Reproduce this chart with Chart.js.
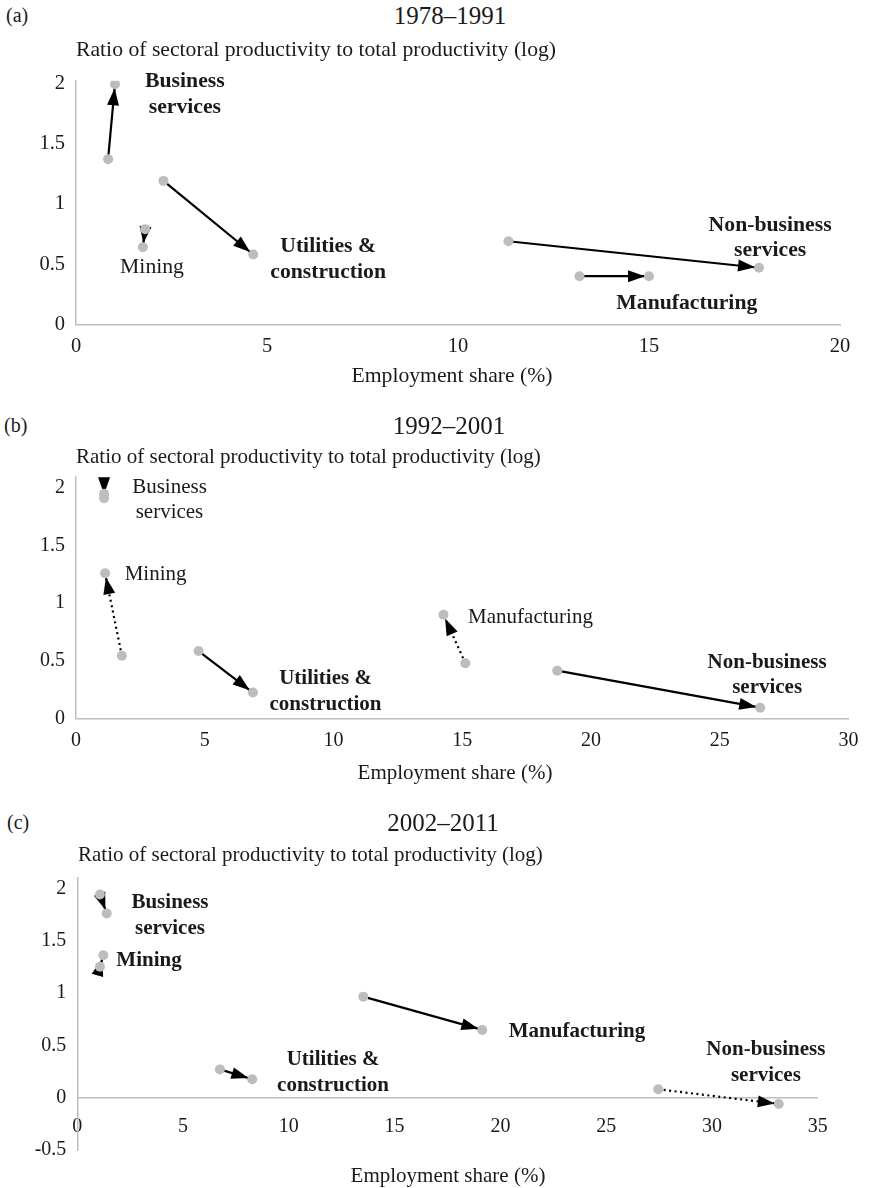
<!DOCTYPE html>
<html>
<head>
<meta charset="utf-8">
<script src="https://cdn.jsdelivr.net/npm/chart.js@4.4.1/dist/chart.umd.min.js"></script>
<style>
  body { margin: 0; background: #fff; }
  #page { position: relative; width: 869px; height: 1188px; font-family: "Liberation Serif", "Times New Roman", serif; color: #1a1a1a; overflow: hidden; }
  #page canvas { position: absolute; left: 0; }
  .t { position: absolute; white-space: nowrap; line-height: 1; transform: translateY(-50%); }
  .c { transform: translate(-50%, -50%); }
</style>
</head>
<body>
<div id="page">
  <canvas id="chartA" width="869" height="320" style="top:50px"></canvas>
  <canvas id="chartB" width="869" height="320" style="top:440px"></canvas>
  <canvas id="chartC" width="869" height="348" style="top:840px"></canvas>

  <div class="t" style="left:6px;top:15px;font-size:20px">(a)</div>
  <div class="t c" style="left:450px;top:15px;font-size:25px">1978–1991</div>
  <div class="t" style="left:76px;top:50px;font-size:21.7px">Ratio of sectoral productivity to total productivity (log)</div>
  <div class="t c" style="left:452px;top:376px;font-size:21.7px">Employment share (%)</div>

  <div class="t" style="left:4px;top:425px;font-size:20px">(b)</div>
  <div class="t c" style="left:449px;top:425px;font-size:25px">1992–2001</div>
  <div class="t" style="left:76px;top:456px;font-size:21px">Ratio of sectoral productivity to total productivity (log)</div>
  <div class="t c" style="left:455px;top:772px;font-size:21px">Employment share (%)</div>

  <div class="t" style="left:7px;top:822px;font-size:20px">(c)</div>
  <div class="t c" style="left:443px;top:822px;font-size:25px">2002–2011</div>
  <div class="t" style="left:78px;top:854px;font-size:21px">Ratio of sectoral productivity to total productivity (log)</div>
  <div class="t c" style="left:448px;top:1175px;font-size:21px">Employment share (%)</div>
</div>

<script>
// sectors, same order in every panel
const sectors = ['Business services', 'Mining', 'Utilities & construction', 'Manufacturing', 'Non-business services'];

// (a) 1978-1991: employment share (%) and log productivity ratio, start -> end
const shareA_from = [0.84, 1.81, 2.29, 13.18, 11.32];
const shareA_to   = [1.02, 1.75, 4.64, 15.00, 17.88];
const ratioA_from = [1.37, 0.79, 1.19, 0.40, 0.69];
const ratioA_to   = [1.99, 0.64, 0.58, 0.40, 0.47];
const xTicksA = [0, 5, 10, 15, 20];
const yTicksA = [0, 0.5, 1, 1.5, 2];

// (b) 1992-2001
const shareB_from = [1.09, 1.78, 4.76, 15.12, 18.69];
const shareB_to   = [1.09, 1.13, 6.87, 14.27, 26.57];
const ratioB_from = [1.95, 0.545, 0.585, 0.48, 0.415];
const ratioB_to   = [1.91, 1.26, 0.225, 0.90, 0.094];
const xTicksB = [0, 5, 10, 15, 20, 25, 30];
const yTicksB = [0, 0.5, 1, 1.5, 2];

// (c) 2002-2011
const shareC_from = [1.07, 1.07, 6.74, 13.52, 27.46];
const shareC_to   = [1.39, 1.23, 8.27, 19.14, 33.16];
const ratioC_from = [1.94, 1.25, 0.27, 0.965, 0.08];
const ratioC_to   = [1.76, 1.36, 0.176, 0.647, -0.06];
const xTicksC = [0, 5, 10, 15, 20, 25, 30, 35];
const yTicksC = [-0.5, 0, 0.5, 1, 1.5, 2];

const FONT = '"Liberation Serif", "Times New Roman", serif';
const INK = '#1a1a1a';
const AXIS = '#bfbfbf';

// arrow heads, drawn before the lines so the grey markers stay on top
const arrowHeads = {
    id: 'arrowHeads',
    beforeDatasetsDraw(chart) {
        const ctx = chart.ctx;
        ctx.save();
        ctx.fillStyle = '#000';
        chart.data.datasets.forEach((ds, i) => {
            const pts = chart.getDatasetMeta(i).data;
            if (pts.length < 2) return;
            const a = pts[0], b = pts[1];
            const dx = b.x - a.x, dy = b.y - a.y;
            const len = Math.hypot(dx, dy) || 1;
            const ux = dx / len, uy = dy / len;
            const tx = b.x - ux * 4, ty = b.y - uy * 4;
            const bx = tx - ux * 17, by = ty - uy * 17;
            ctx.beginPath();
            ctx.moveTo(tx, ty);
            ctx.lineTo(bx - uy * 6, by + ux * 6);
            ctx.lineTo(bx + uy * 6, by - ux * 6);
            ctx.closePath();
            ctx.fill();
        });
        ctx.restore();
    }
};

// sector names placed in data units
const sectorLabels = {
    id: 'sectorLabels',
    afterDatasetsDraw(chart, args, opts) {
        const {ctx, scales} = chart;
        ctx.save();
        ctx.fillStyle = INK;
        ctx.textAlign = 'center';
        ctx.textBaseline = 'middle';
        opts.items.forEach(it => {
            ctx.font = (it.bold ? 'bold ' : '') + opts.size + 'px ' + FONT;
            const px = scales.x.getPixelForValue(it.at[0]);
            const py = scales.y.getPixelForValue(it.at[1]);
            const n = it.text.length;
            it.text.forEach((line, k) => ctx.fillText(line, px, py + (k - (n - 1) / 2) * opts.gap));
        });
        ctx.restore();
    }
};

// 2 -> "2", 0.5 -> "0.5" (no padded decimals)
const plainNum = v => String(Math.round(v * 100) / 100);

function makeChart(id, xFrom, xTo, yFrom, yTo, cfg) {
    const datasets = sectors.map((s, i) => ({
        label: s,
        data: [{x: xFrom[i], y: yFrom[i]}, {x: xTo[i], y: yTo[i]}],
        showLine: true,
        borderColor: '#000',
        borderWidth: 2.2,
        borderDash: cfg.dotted.includes(s) ? [2, 3.5] : [],
        pointRadius: 5,
        pointHoverRadius: 5,
        pointBackgroundColor: '#bdbdbd',
        pointBorderColor: '#bdbdbd',
        pointBorderWidth: 0
    }));

    const xScale = {
        type: 'linear',
        position: cfg.xPos || 'bottom',
        min: cfg.xTicks[0],
        max: cfg.xTicks[cfg.xTicks.length - 1],
        grid: {display: false, drawTicks: false},
        border: {display: true, color: AXIS, width: 1.5},
        ticks: {padding: cfg.xPad, color: INK, font: {family: FONT, size: cfg.tick}, callback: plainNum},
        afterBuildTicks: s => { s.ticks = cfg.xTicks.map(v => ({value: v})); }
    };
    if (cfg.xHeight) xScale.afterFit = s => { s.height = cfg.xHeight; };

    return new Chart(document.getElementById(id), {
        type: 'scatter',
        data: {datasets},
        plugins: [arrowHeads, sectorLabels],
        options: {
            responsive: false,
            animation: false,
            events: [],
            layout: {padding: cfg.padding},
            plugins: {
                legend: {display: false},
                tooltip: {enabled: false},
                sectorLabels: {items: cfg.labels, size: cfg.text, gap: 25.5}
            },
            scales: {
                x: xScale,
                y: {
                    type: 'linear',
                    min: cfg.yMin,
                    max: cfg.yMax,
                    grid: {display: false, drawTicks: false},
                    border: {display: true, color: AXIS, width: 1.5},
                    ticks: {padding: 11, color: INK, font: {family: FONT, size: cfg.tick}, callback: plainNum},
                    afterBuildTicks: s => { s.ticks = cfg.yTicks.map(v => ({value: v})); },
                    afterFit: s => { s.width = cfg.left; }
                }
            }
        }
    });
}

makeChart('chartA', shareA_from, shareA_to, ratioA_from, ratioA_to, {
    xTicks: xTicksA, yTicks: yTicksA, yMin: 0, yMax: 2.02,
    left: 76, xHeight: 45.5, xPad: 10, tick: 20.5, text: 21.7,
    padding: {top: 30.7, right: 29, left: 0, bottom: 0},
    dotted: [],
    labels: [
        {text: ['Business', 'services'], at: [2.85, 1.905], bold: true},
        {text: ['Mining'], at: [1.99, 0.476], bold: false},
        {text: ['Utilities &', 'construction'], at: [6.60, 0.538], bold: true},
        {text: ['Manufacturing'], at: [15.99, 0.178], bold: true},
        {text: ['Non-business', 'services'], at: [18.17, 0.716], bold: true}
    ]
});

makeChart('chartB', shareB_from, shareB_to, ratioB_from, ratioB_to, {
    xTicks: xTicksB, yTicks: yTicksB, yMin: 0, yMax: 2.1,
    left: 76, xHeight: 41.5, xPad: 10.5, tick: 20, text: 21,
    padding: {top: 36.4, right: 16.3, left: 0, bottom: 0},
    dotted: ['Mining', 'Manufacturing'],
    labels: [
        {text: ['Business', 'services'], at: [3.63, 1.895], bold: false},
        {text: ['Mining'], at: [3.09, 1.245], bold: false},
        {text: ['Utilities &', 'construction'], at: [9.69, 0.234], bold: true},
        {text: ['Manufacturing'], at: [17.65, 0.88], bold: false},
        {text: ['Non-business', 'services'], at: [26.84, 0.377], bold: true}
    ]
});

makeChart('chartC', shareC_from, shareC_to, ratioC_from, ratioC_to, {
    xTicks: xTicksC, yTicks: yTicksC, yMin: -0.5, yMax: 2.1,
    xPos: {y: 0}, left: 77.3, xPad: 17, tick: 20, text: 21,
    padding: {top: 37.8, right: 51.3, left: 0, bottom: 38},
    dotted: ['Non-business services'],
    labels: [
        {text: ['Business', 'services'], at: [4.38, 1.74], bold: true},
        {text: ['Mining'], at: [3.39, 1.306], bold: true},
        {text: ['Utilities &', 'construction'], at: [12.09, 0.241], bold: true},
        {text: ['Manufacturing'], at: [23.62, 0.627], bold: true},
        {text: ['Non-business', 'services'], at: [32.55, 0.336], bold: true}
    ]
});
</script>
</body>
</html>
